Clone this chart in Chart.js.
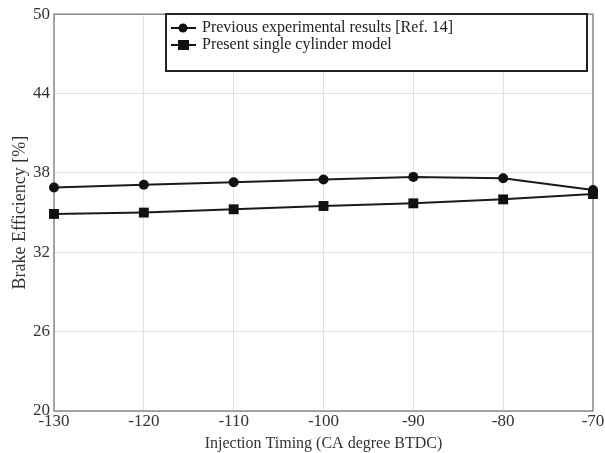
<!DOCTYPE html>
<html>
<head>
<meta charset="utf-8">
<script src="https://cdn.jsdelivr.net/npm/chart.js@4"></script>
<style>
  html, body { margin: 0; padding: 0; background: #fff; }
  #wrap { width: 605px; height: 453px; }
</style>
</head>
<body>
<div id="wrap"><canvas id="chart-1"></canvas></div>
<script>
// injection timing (CA degree BTDC)
const timing = [-130, -120, -110, -100, -90, -80, -70];
// brake efficiency [%]
const previousResults = [36.9, 37.1, 37.3, 37.5, 37.7, 37.6, 36.7];
const presentModel = [34.9, 35.0, 35.25, 35.5, 35.7, 36.0, 36.4];
const yTicks = [20, 26, 32, 38, 44, 50];
const seriesNames = ["Previous experimental results [Ref. 14]", "Present single cylinder model"];

const serif = "'Liberation Serif', 'DejaVu Serif', serif";

// frame + legend box inside the plot
const framePlugin = {
  id: "frame",
  beforeDatasetsDraw(chart) {
    const { ctx, chartArea: a } = chart;
    ctx.save();
    ctx.strokeStyle = "#8a8a8a";
    ctx.lineWidth = 1.5;
    ctx.strokeRect(a.left, a.top, a.right - a.left, a.bottom - a.top);
    ctx.restore();
  },
  afterDatasetsDraw(chart) {
    const { ctx } = chart;
    ctx.save();
    // legend
    const x0 = 166, y0 = 14, w = 421, h = 57;
    ctx.fillStyle = "#fff";
    ctx.fillRect(x0, y0, w, h);
    ctx.strokeStyle = "#222";
    ctx.lineWidth = 2;
    ctx.strokeRect(x0, y0, w, h);
    ctx.font = "16px " + serif;
    ctx.textBaseline = "middle";
    chart.data.datasets.forEach((ds, i) => {
      const yy = y0 + 14 + i * 17;
      ctx.strokeStyle = "#111";
      ctx.lineWidth = 2;
      ctx.beginPath();
      ctx.moveTo(x0 + 5, yy);
      ctx.lineTo(x0 + 30, yy);
      ctx.stroke();
      ctx.fillStyle = "#111";
      if (ds.pointStyle === "rect") {
        ctx.fillRect(x0 + 12, yy - 5, 11, 10);
      } else {
        ctx.beginPath();
        ctx.arc(x0 + 17, yy, 4.5, 0, Math.PI * 2);
        ctx.fill();
      }
      ctx.fillStyle = "#222";
      ctx.fillText(ds.label, x0 + 36, yy);
    });
    ctx.restore();
  },
};

const ctx1 = document.getElementById("chart-1").getContext("2d");
const myChart = new Chart(ctx1, {
  type: "line",
  data: {
    datasets: [
      {
        label: seriesNames[0],
        data: timing.map((t, i) => ({ x: t, y: previousResults[i] })),
        borderColor: "#1a1a1a",
        backgroundColor: "#111",
        borderWidth: 2,
        pointStyle: "circle",
        pointRadius: 5,
        pointBorderWidth: 0,
        clip: false,
      },
      {
        label: seriesNames[1],
        data: timing.map((t, i) => ({ x: t, y: presentModel[i] })),
        borderColor: "#1a1a1a",
        backgroundColor: "#111",
        borderWidth: 2,
        pointStyle: "rect",
        pointRadius: 7,
        pointBorderWidth: 0,
        clip: false,
      },
    ],
  },
  options: {
    responsive: true,
    maintainAspectRatio: false,
    animation: false,
    layout: { padding: { top: 12, right: 12, left: 0, bottom: 0 } },
    plugins: { legend: { display: false }, tooltip: { enabled: false } },
    scales: {
      x: {
        type: "linear",
        min: -130,
        max: -70,
        ticks: { stepSize: 10, color: "#333", font: { family: serif, size: 17 }, padding: 0, maxRotation: 0 },
        grid: { color: "#e2e2e2", drawTicks: false },
        border: { display: false },
        title: { display: true, text: "Injection Timing (CA degree BTDC)", color: "#333", font: { family: serif, size: 16 }, padding: { top: 1, bottom: 0 } },
        afterFit: (s) => { s.height = 42; },
      },
      y: {
        min: 20,
        max: 50,
        afterBuildTicks: (s) => { s.ticks = yTicks.map((v) => ({ value: v })); },
        ticks: { color: "#333", font: { family: serif, size: 17 }, padding: 4 },
        grid: { color: "#e2e2e2", drawTicks: false },
        border: { display: false },
        title: { display: true, text: "Brake Efficiency [%]", color: "#333", font: { family: serif, size: 18 }, padding: { top: 9, bottom: 0 } },
        afterFit: (s) => { s.width = 54; },
      },
    },
  },
  plugins: [framePlugin],
});
</script>
</body>
</html>
